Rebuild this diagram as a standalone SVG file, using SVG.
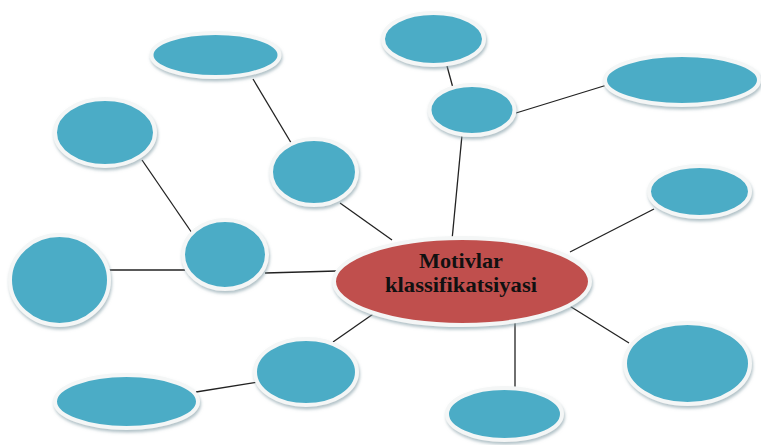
<svg xmlns="http://www.w3.org/2000/svg" width="761" height="445" viewBox="0 0 761 445">
<defs>
<filter id="sh" x="-20%" y="-20%" width="140%" height="150%">
<feDropShadow dx="1" dy="2.5" stdDeviation="1.5" flood-color="#7f9aa3" flood-opacity="0.6"/>
</filter>
<style>
.n{fill:#4BACC6;stroke:#F4F6F6;stroke-width:4;filter:url(#sh)}
.c{fill:#C0504D;stroke:#F4F6F6;stroke-width:4;filter:url(#sh)}
.l{stroke:#222;stroke-width:1.3;fill:none}
.t{font-family:"Liberation Serif","Times New Roman",serif;font-weight:bold;font-size:21px;fill:#111;text-anchor:middle}
</style>
</defs>
<rect width="761" height="445" fill="#fff"/>
<g id="connectors">
<line class="l" x1="253" y1="79" x2="293" y2="146"/>
<line class="l" x1="340" y1="203" x2="392" y2="240"/>
<line class="l" x1="447" y1="66" x2="453" y2="88"/>
<line class="l" x1="516" y1="113" x2="607" y2="85"/>
<line class="l" x1="462" y1="135" x2="452" y2="240"/>
<line class="l" x1="142" y1="160" x2="192" y2="233"/>
<line class="l" x1="107" y1="270" x2="185" y2="270"/>
<line class="l" x1="265" y1="273" x2="337" y2="271"/>
<line class="l" x1="654" y1="209" x2="570" y2="252"/>
<line class="l" x1="568" y1="305" x2="629" y2="343"/>
<line class="l" x1="515" y1="320" x2="515" y2="390"/>
<line class="l" x1="333" y1="342" x2="376" y2="312"/>
<line class="l" x1="196" y1="392" x2="258" y2="382"/>
</g>
<g id="node-top-left"><ellipse class="n" cx="215.5" cy="55" rx="64" ry="22"/></g>
<g id="node-top-small"><ellipse class="n" cx="433.5" cy="39" rx="50.5" ry="26"/></g>
<g id="node-top-right"><ellipse class="n" cx="682" cy="80" rx="77" ry="25"/></g>
<g id="node-upper-mid"><ellipse class="n" cx="472" cy="110" rx="42.5" ry="25"/></g>
<g id="node-left-upper"><ellipse class="n" cx="105" cy="132.5" rx="50" ry="33.5"/></g>
<g id="node-mid-upper"><ellipse class="n" cx="314" cy="172" rx="43" ry="33"/></g>
<g id="node-right-upper"><ellipse class="n" cx="699.5" cy="191.5" rx="50.5" ry="25.5"/></g>
<g id="node-left-mid"><ellipse class="n" cx="225" cy="254.5" rx="42" ry="34.5"/></g>
<g id="node-far-left"><ellipse class="n" cx="59.5" cy="280" rx="49.5" ry="45"/></g>
<g id="node-lower-mid"><ellipse class="n" cx="306" cy="372" rx="51" ry="33"/></g>
<g id="node-bottom-left"><ellipse class="n" cx="126.5" cy="401.5" rx="71.5" ry="26.5"/></g>
<g id="node-right-lower"><ellipse class="n" cx="687.5" cy="363.5" rx="62.5" ry="40.5"/></g>
<g id="node-bottom"><ellipse class="n" cx="504.5" cy="414" rx="57.5" ry="26"/></g>
<g id="center">
<ellipse class="c" cx="462" cy="281.5" rx="128" ry="43.5"/>
<text class="t" x="461" y="268" textLength="84" lengthAdjust="spacingAndGlyphs">Motivlar</text>
<text class="t" x="461" y="292" textLength="152" lengthAdjust="spacingAndGlyphs">klassifikatsiyasi</text>
</g>
</svg>
